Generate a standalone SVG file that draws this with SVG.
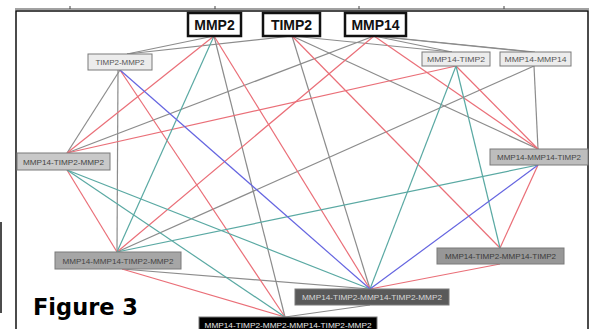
<svg xmlns="http://www.w3.org/2000/svg" width="593" height="329" viewBox="0 0 593 329">
<style>
.e{fill:none;stroke-width:1.2}
.g{stroke:#8c8c8c}
.r{stroke:#ea6f78}
.t{stroke:#5aa9a3}
.b{stroke:#6565e0}
.top rect{fill:#fff;stroke:#111;stroke-width:2.5}
.top text{font-family:"Liberation Sans",Arial,sans-serif;font-weight:bold;font-size:14px;fill:#111;text-anchor:middle}
.n rect{stroke:#7a7a7a;stroke-width:1}
.n text{font-family:"Liberation Sans",Arial,sans-serif;font-size:8px;text-anchor:middle}
.frame{fill:none;stroke:#111;stroke-width:1.5}
</style>
<rect width="593" height="329" fill="#fff"/>
<g id="frame">
<line x1="15" y1="9" x2="589" y2="9" stroke="#444" stroke-width="1"/>
<line x1="70" y1="6" x2="70" y2="9" stroke="#444" stroke-width="1"/>
<line x1="215" y1="6" x2="215" y2="9" stroke="#444" stroke-width="1"/>
<line x1="359" y1="6" x2="359" y2="9" stroke="#444" stroke-width="1"/>
<line x1="504" y1="6" x2="504" y2="9" stroke="#444" stroke-width="1"/>
<path class="frame" d="M16,335 V11 H588 V335"/>
<line x1="1" y1="222" x2="1" y2="313" stroke="#111" stroke-width="1.5"/>
</g>
<g id="connectors">
<line class="e g" x1="214" y1="36" x2="127" y2="54"/>
<line class="e g" x1="292" y1="36" x2="127" y2="54"/>
<line class="e g" x1="292" y1="36" x2="452" y2="52"/>
<line class="e g" x1="374" y1="36" x2="452" y2="52"/>
<line class="e g" x1="373" y1="36" x2="531" y2="52"/>
<line class="e g" x1="376" y1="36" x2="535" y2="52"/>
<line class="e g" x1="120" y1="70" x2="67" y2="153"/>
<line class="e g" x1="374" y1="36" x2="67" y2="153"/>
<line class="e g" x1="534" y1="66" x2="538" y2="149"/>
<line class="e g" x1="292" y1="36" x2="538" y2="149"/>
<line class="e g" x1="118" y1="70" x2="117" y2="252"/>
<line class="e g" x1="534" y1="66" x2="117" y2="252"/>
<line class="e g" x1="292" y1="36" x2="370" y2="289"/>
<line class="e g" x1="122" y1="269" x2="370" y2="289"/>
<line class="e g" x1="214" y1="36" x2="285" y2="317"/>
<line class="e g" x1="370" y1="305" x2="285" y2="317"/>
<line class="e r" x1="214" y1="36" x2="67" y2="153"/>
<line class="e r" x1="456" y1="66" x2="67" y2="153"/>
<line class="e r" x1="456" y1="66" x2="538" y2="149"/>
<line class="e r" x1="374" y1="36" x2="538" y2="149"/>
<line class="e r" x1="67" y1="170" x2="117" y2="252"/>
<line class="e r" x1="374" y1="36" x2="117" y2="252"/>
<line class="e r" x1="538" y1="165" x2="500" y2="248"/>
<line class="e r" x1="292" y1="36" x2="500" y2="248"/>
<line class="e r" x1="214" y1="36" x2="370" y2="289"/>
<line class="e r" x1="500" y1="264" x2="370" y2="289"/>
<line class="e r" x1="120" y1="70" x2="285" y2="317"/>
<line class="e r" x1="122" y1="269" x2="285" y2="317"/>
<line class="e t" x1="214" y1="36" x2="117" y2="252"/>
<line class="e t" x1="538" y1="165" x2="117" y2="252"/>
<line class="e t" x1="456" y1="66" x2="500" y2="248"/>
<line class="e t" x1="67" y1="170" x2="370" y2="289"/>
<line class="e t" x1="456" y1="66" x2="370" y2="289"/>
<line class="e t" x1="67" y1="170" x2="285" y2="317"/>
<line class="e b" x1="120" y1="70" x2="370" y2="289"/>
<line class="e b" x1="538" y1="165" x2="370" y2="289"/>
</g>
<g id="n-mmp2" class="top"><rect x="188" y="13" width="53" height="23"/><text x="214.5" y="30">MMP2</text></g>
<g id="n-timp2" class="top"><rect x="263" y="13" width="57" height="23"/><text x="291.5" y="30">TIMP2</text></g>
<g id="n-mmp14" class="top"><rect x="345" y="13" width="61" height="23"/><text x="375.5" y="30">MMP14</text></g>
<g id="n-timp2-mmp2" class="n"><rect x="88" y="54" width="64" height="16" fill="#ececec"/><text x="120" y="65" fill="#555" textLength="49" lengthAdjust="spacingAndGlyphs">TIMP2-MMP2</text></g>
<g id="n-mmp14-timp2" class="n"><rect x="422" y="52" width="68" height="14" fill="#ececec"/><text x="456" y="62" fill="#555" textLength="58" lengthAdjust="spacingAndGlyphs">MMP14-TIMP2</text></g>
<g id="n-mmp14-mmp14" class="n"><rect x="500" y="52" width="71" height="14" fill="#ececec"/><text x="535.5" y="62" fill="#555" textLength="62" lengthAdjust="spacingAndGlyphs">MMP14-MMP14</text></g>
<g id="n-mmp14-timp2-mmp2" class="n"><rect x="17" y="153" width="93" height="17" fill="#c9c9c9"/><text x="63.5" y="164.5" fill="#444" textLength="81" lengthAdjust="spacingAndGlyphs">MMP14-TIMP2-MMP2</text></g>
<g id="n-mmp14-mmp14-timp2" class="n"><rect x="490" y="149" width="98" height="16" fill="#bdbdbd"/><text x="539" y="160" fill="#444" textLength="84" lengthAdjust="spacingAndGlyphs">MMP14-MMP14-TIMP2</text></g>
<g id="n-mmp14-mmp14-timp2-mmp2" class="n"><rect x="55" y="252" width="126" height="17" fill="#a6a6a6"/><text x="118" y="263.5" fill="#444" textLength="111" lengthAdjust="spacingAndGlyphs">MMP14-MMP14-TIMP2-MMP2</text></g>
<g id="n-mmp14-timp2-mmp14-timp2" class="n"><rect x="437" y="248" width="127" height="16" fill="#979797"/><text x="500.5" y="259" fill="#3a3a3a" textLength="111" lengthAdjust="spacingAndGlyphs">MMP14-TIMP2-MMP14-TIMP2</text></g>
<g id="n-mmp14-timp2-mmp14-timp2-mmp2" class="n"><rect x="295" y="289" width="154" height="16" fill="#5a5a5a"/><text x="372" y="300" fill="#d8d8d8" textLength="140" lengthAdjust="spacingAndGlyphs">MMP14-TIMP2-MMP14-TIMP2-MMP2</text></g>
<g id="n-big" class="n"><rect x="199" y="317" width="178" height="16" fill="#000" stroke="#000"/><text x="288" y="327.5" fill="#e6e6e6" textLength="167" lengthAdjust="spacingAndGlyphs">MMP14-TIMP2-MMP2-MMP14-TIMP2-MMP2</text></g>
<text x="33" y="315" font-family="'DejaVu Sans',sans-serif" font-weight="bold" font-size="23" fill="#000" textLength="105" lengthAdjust="spacingAndGlyphs">Figure 3</text>
</svg>
